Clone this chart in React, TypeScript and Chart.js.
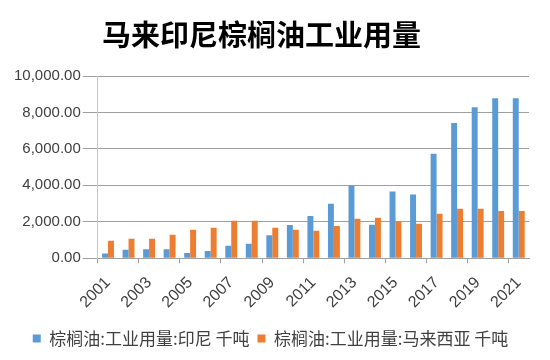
import React, { useEffect, useRef } from "react";
import { Chart, registerables } from "chart.js";

Chart.register(...registerables);

const TITLE = "马来印尼棕榈油工业用量";
const years = [
  "2001", "2002", "2003", "2004", "2005", "2006", "2007", "2008", "2009", "2010",
  "2011", "2012", "2013", "2014", "2015", "2016", "2017", "2018", "2019", "2020", "2021",
];
const indonesiaLabel = "棕榈油:工业用量:印尼 千吨";
const malaysiaLabel = "棕榈油:工业用量:马来西亚 千吨";
const indonesia = [
  257, 460, 496, 496, 294, 404, 680, 790, 1268, 1820,
  2316, 2996, 3988, 1838, 3658, 3492, 5735, 7425, 8289, 8786, 8786,
];
const malaysia = [
  956, 1066, 1066, 1287, 1562, 1673, 2059, 2059, 1673, 1562,
  1507, 1764, 2169, 2224, 2022, 1893, 2445, 2720, 2720, 2592, 2592,
];
const yMin = 0;
const yMax = 10000;
const yStep = 2000;

const BLUE = "#5B9BD5";
const ORANGE = "#ED7D31";
const TEXT = "#404040";
const GRID = "#a0a0a0";

const titlePlugin = {
  id: "customTitle",
  afterDraw(chart: any) {
    const ctx = chart.ctx;
    ctx.save();
    ctx.font = "bold 29px 'Noto Sans CJK SC'";
    ctx.fillStyle = "#000000";
    ctx.textAlign = "center";
    ctx.textBaseline = "middle";
    ctx.fillText(TITLE, 261.5, 35);
    ctx.restore();
  },
};

export default function App() {
  const ref = useRef<HTMLCanvasElement | null>(null);
  useEffect(() => {
    if (!ref.current) return;
    const chart = new Chart(ref.current, {
      type: "bar",
      data: {
        labels: years,
        datasets: [
          {
            label: indonesiaLabel,
            data: indonesia,
            backgroundColor: BLUE,
            barPercentage: 1,
            categoryPercentage: 0.58,
          },
          {
            label: malaysiaLabel,
            data: malaysia,
            backgroundColor: ORANGE,
            barPercentage: 1,
            categoryPercentage: 0.58,
          },
        ],
      },
      options: {
        animation: false,
        responsive: false,
        maintainAspectRatio: false,
        layout: { padding: { top: 76, right: 21, bottom: 3, left: 12 } },
        plugins: {
          title: { display: false },
          tooltip: { enabled: false },
          legend: {
            position: "bottom",
            labels: {
              boxWidth: 8,
              boxHeight: 8,
              padding: 8,
              color: TEXT,
              font: { family: "'Noto Sans CJK SC'", size: 17 },
            },
          },
        },
        scales: {
          x: {
            grid: {
              offset: true,
              drawOnChartArea: false,
              drawTicks: true,
              tickLength: 5,
              color: (c: any) => (c.index % 2 === 0 ? GRID : "rgba(0,0,0,0)"),
            },
            border: { display: true, color: GRID },
            ticks: {
              autoSkip: false,
              minRotation: 45,
              maxRotation: 45,
              padding: 10,
              color: TEXT,
              font: { family: "'Liberation Sans'", size: 16 },
              callback: (_v: any, i: number) => (i % 2 === 0 ? years[i] : ""),
            },
          },
          y: {
            min: yMin,
            max: yMax,
            ticks: {
              stepSize: yStep,
              padding: 2,
              color: TEXT,
              font: { family: "'Liberation Sans'", size: 15 },
              callback: (v: any) =>
                Number(v).toLocaleString("en-US", {
                  minimumFractionDigits: 2,
                  maximumFractionDigits: 2,
                }),
            },
            grid: { color: GRID, tickLength: 15 },
            border: { display: true, color: "#c8c8c8" },
          },
        },
      },
      plugins: [titlePlugin],
    });
    return () => chart.destroy();
  }, []);
  return (
    <div style={{ position: "absolute", left: 0, top: 0, width: 550, height: 360, background: "#fff" }}>
      <canvas ref={ref} width={550} height={360} />
    </div>
  );
}
